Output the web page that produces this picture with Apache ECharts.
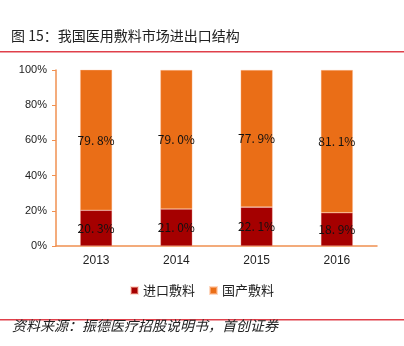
<!DOCTYPE html>
<html><head><meta charset="utf-8">
<script src="https://cdn.jsdelivr.net/npm/echarts@6/dist/echarts.min.js"></script>
<style>html,body{margin:0;padding:0;background:#fff}#c{width:404px;height:346px}</style>
</head><body><div id="c"></div>
<script>
var categories = ['2013', '2014', '2015', '2016'];
var importValues = [20.3, 21.0, 22.1, 18.9];
var domesticValues = [79.8, 79.0, 77.9, 81.1];
var yTicks = [0, 20, 40, 60, 80, 100];
var seriesNames = ['进口敷料', '国产敷料'];
var titleText = '图 15：我国医用敷料市场进出口结构';
var sourceText = '资料来源：振德医疗招股说明书，首创证券';

var chart = echarts.init(document.getElementById('c'));
var cjk = '"Noto Sans CJK SC", sans-serif';
function fmt(p) { return p.value.toFixed(1).replace('.', '. ') + '%'; }
chart.setOption({
  animation: false,
  textStyle: { fontFamily: cjk },
  grid: { left: 56, right: 27, top: 70, bottom: 100 },
  legend: {
    data: seriesNames, top: 279, left: 'center',
    itemWidth: 7, itemHeight: 7, itemGap: 14, icon: 'rect',
    textStyle: { fontSize: 13, color: '#222', fontFamily: cjk }
  },
  xAxis: {
    type: 'category', data: categories,
    axisLine: { lineStyle: { color: '#F09050', width: 1.5 } },
    axisTick: { show: false },
    axisLabel: { color: '#222', fontSize: 12, margin: 9, fontFamily: 'Arial, Liberation Sans' }
  },
  yAxis: {
    type: 'value', min: 0, max: 100, interval: 20,
    axisLine: { show: true, lineStyle: { color: '#F09050', width: 1.5 } },
    axisTick: { show: true, inside: false, length: 4, lineStyle: { color: '#F09050' } },
    splitLine: { show: false },
    axisLabel: { color: '#222', fontSize: 11, margin: 9, fontFamily: 'Arial, Liberation Sans',
      formatter: function (v) { return yTicks.indexOf(v) >= 0 ? v + '%' : ''; } }
  },
  series: [
    { name: seriesNames[0], type: 'bar', stack: 's', data: importValues, barWidth: 32,
      itemStyle: { color: '#A50000', borderColor: 'rgba(255,190,170,0.5)', borderWidth: 0.6 },
      label: { show: true, position: 'inside', color: '#111', fontSize: 12, fontFamily: '"Noto Sans CJK SC"', formatter: fmt } },
    { name: seriesNames[1], type: 'bar', stack: 's', data: domesticValues, barWidth: 32,
      itemStyle: { color: '#EA6E17', borderColor: 'rgba(255,190,150,0.6)', borderWidth: 0.6 },
      label: { show: true, position: 'inside', color: '#111', fontSize: 12, fontFamily: '"Noto Sans CJK SC"', formatter: fmt } }
  ],
  graphic: [
    { type: 'text', left: 11, top: 29, style: { text: titleText, fontSize: 14, fill: '#222', fontFamily: cjk } },
    { type: 'rect', shape: { x: 0, y: 51, width: 404, height: 1.5 }, style: { fill: '#E0404A' } },
    { type: 'rect', shape: { x: 0, y: 319, width: 404, height: 1.5 }, style: { fill: '#E0404A' } },
    { type: 'text', left: 12, top: 319, style: { text: sourceText, fontSize: 14, fill: '#222', fontStyle: 'italic', fontFamily: cjk } }
  ]
});
</script></body></html>
